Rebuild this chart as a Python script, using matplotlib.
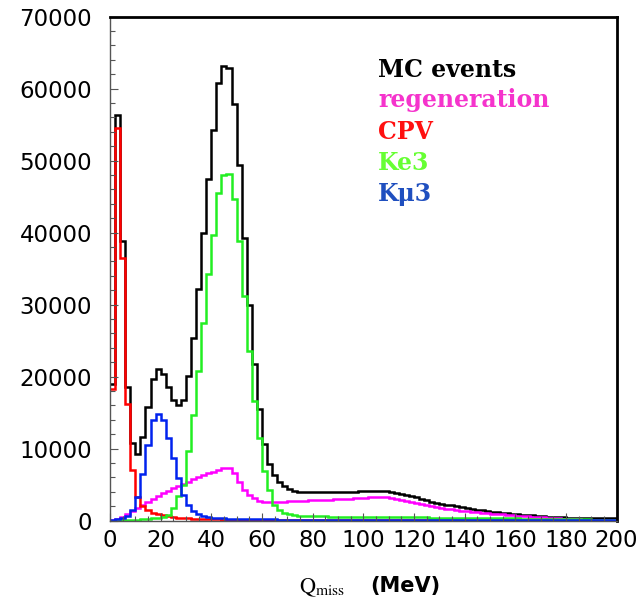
import numpy as np
import matplotlib
matplotlib.use("Agg")
import matplotlib.pyplot as plt
from matplotlib.ticker import MultipleLocator

# ---- data: 100 bins of 2 MeV from 0 to 200 MeV ----
bin_edges_mev = np.arange(0, 202, 2)

mc_events = [
    19000, 56300, 38800, 18600, 10800, 9170, 11570, 15800, 19600, 21000,
    20400, 18600, 16700, 16000, 16700, 20100, 25400, 32100, 40000, 47400,
    54200, 60800, 63100, 62800, 57800, 49400, 39300, 30000, 21800, 15500,
    10560, 7900, 6300, 5400, 4800, 4400, 4100, 3950, 3950, 3930,
    3920, 3930, 3950, 3960, 3980, 3990, 4000, 4000, 4020, 4030,
    4050, 4050, 4060, 4050, 4040, 3950, 3800, 3650, 3500, 3350,
    3200, 3000, 2800, 2600, 2400, 2300, 2200, 2100, 1950, 1850,
    1720, 1620, 1520, 1430, 1350, 1250, 1170, 1080, 1000, 920,
    860, 800, 750, 700, 650, 600, 540, 500, 460, 430,
    410, 390, 370, 350, 340, 330, 320, 310, 300, 290]

regeneration = [
    60, 250, 550, 850, 1300, 1800, 2200, 2600, 3000, 3400,
    3800, 4100, 4500, 4800, 5100, 5400, 5700, 6000, 6300, 6550,
    6800, 7000, 7250, 7300, 6600, 5300, 4300, 3500, 3100, 2750,
    2600, 2550, 2550, 2600, 2600, 2650, 2700, 2700, 2750, 2800,
    2800, 2850, 2900, 2900, 2950, 3000, 3000, 3050, 3100, 3100,
    3150, 3200, 3200, 3250, 3200, 3100, 3000, 2850, 2700, 2550,
    2400, 2250, 2100, 1950, 1850, 1750, 1650, 1550, 1450, 1350,
    1280, 1220, 1150, 1090, 1030, 970, 910, 850, 790, 730,
    670, 610, 560, 510, 460, 420, 380, 340, 300, 260,
    220, 190, 160, 130, 110, 90, 70, 50, 40, 30]

cpv = [
    18200, 54500, 36500, 16200, 7080, 3300, 2000, 1400, 1070, 920,
    740, 600, 460, 370, 320, 280, 240, 210, 190, 170,
    150, 140, 130, 120, 110, 100, 95, 90, 85, 80,
    75, 70, 66, 62, 58, 55, 52, 49, 46, 43,
    40, 38, 36, 34, 32, 30, 28, 26, 24, 22,
    20, 19, 18, 17, 16, 15, 14, 13, 12, 11,
    10, 10, 10, 10, 10, 10, 10, 10, 10, 10,
    10, 10, 10, 10, 10, 10, 10, 10, 10, 10,
    10, 10, 10, 10, 10, 10, 10, 10, 10, 10,
    10, 10, 10, 10, 10, 10, 10, 10, 10, 10]

ke3 = [
    0, 0, 20, 50, 80, 120, 170, 230, 300, 400,
    550, 800, 1700, 3400, 5000, 9630, 14600, 20700, 27400, 34170,
    39700, 45450, 48000, 48100, 44600, 38800, 31150, 23500, 16600, 11480,
    6850, 4200, 2100, 1450, 1080, 900, 760, 680, 640, 620,
    600, 580, 560, 550, 540, 530, 520, 510, 500, 490,
    480, 475, 470, 465, 460, 455, 450, 445, 440, 435,
    430, 425, 420, 415, 410, 405, 400, 395, 390, 385,
    380, 370, 360, 350, 340, 330, 320, 310, 300, 290,
    280, 270, 260, 250, 240, 230, 220, 210, 200, 190,
    180, 170, 160, 150, 140, 130, 120, 110, 100, 90]

kmu3 = [
    30, 150, 300, 650, 1500, 3200, 6400, 10500, 13900, 14800,
    13900, 11400, 8700, 5950, 3600, 2200, 1300, 850, 620, 480,
    400, 350, 300, 270, 250, 230, 210, 190, 170, 160,
    150, 145, 140, 135, 130, 125, 120, 115, 110, 105,
    100, 98, 96, 94, 92, 90, 88, 86, 84, 82,
    80, 78, 76, 74, 72, 70, 68, 66, 64, 62,
    60, 58, 56, 54, 52, 50, 48, 46, 44, 42,
    40, 38, 36, 34, 32, 30, 29, 28, 27, 26,
    25, 24, 23, 22, 21, 20, 19, 18, 17, 16,
    15, 14, 13, 12, 11, 10, 10, 10, 10, 10]

series_names = ["MC events", "regeneration", "CPV", "Ke3", "K\u03bc3"]
line_colors = ["#000000", "#ff00ff", "#ff0000", "#22ee22", "#0022ee"]
text_colors = ["#000000", "#f533cc", "#ff1010", "#66ff33", "#1f4fbf"]

x_ticks = list(range(0, 201, 20))
y_ticks = list(range(0, 70001, 10000))

# ---- figure ----
fig = plt.figure(figsize=(6.42, 6.05), dpi=100)
ax = fig.add_axes([110 / 642, 1 - 520.5 / 605, 506.5 / 642, 504 / 605])

for vals, col in zip([mc_events, regeneration, cpv, ke3, kmu3], line_colors):
    ax.stairs(vals, bin_edges_mev, color=col, linewidth=1.8, baseline=None)

ax.set_xlim(0, 200)
ax.set_ylim(0, 70000)
ax.set_xticks(x_ticks)
ax.set_yticks(y_ticks)
ax.xaxis.set_minor_locator(MultipleLocator(5))
ax.yaxis.set_minor_locator(MultipleLocator(2000))
ax.tick_params(which="both", direction="in", top=False, right=False,
               color="#555555", width=0.8)
ax.tick_params(which="major", length=6)
ax.tick_params(which="minor", length=3.5)
ax.tick_params(axis="y", which="major", pad=13)
ax.tick_params(axis="x", which="major", pad=6)
for lab in ax.get_xticklabels() + ax.get_yticklabels():
    lab.set_fontfamily("DejaVu Sans")
    lab.set_fontsize(16.5)

for side in ["left", "bottom"]:
    ax.spines[side].set_linewidth(1.0)
    ax.spines[side].set_color("#555555")
for side in ["top", "right"]:
    ax.spines[side].set_linewidth(2.0)
    ax.spines[side].set_color("#000000")

# legend as coloured text
baselines = [76.7, 107.5, 139, 170.5, 201.5]
for name, col, b in zip(series_names, text_colors, baselines):
    fig.text(378 / 642, 1 - b / 605, name, color=col, fontsize=17,
             fontfamily="DejaVu Serif", fontweight="bold", va="baseline", ha="left")

# x axis title
plt.rcParams["mathtext.fontset"] = "stix"
fig.text(299 / 642, 1 - 592 / 605, r"$\mathrm{Q}_{\mathrm{miss}}$", fontsize=16,
         va="baseline", ha="left")
fig.text(370 / 642, 1 - 592 / 605, "(MeV)", fontsize=15, fontfamily="DejaVu Sans",
         fontweight="bold", va="baseline", ha="left")

fig.savefig("out.png", dpi=100)
